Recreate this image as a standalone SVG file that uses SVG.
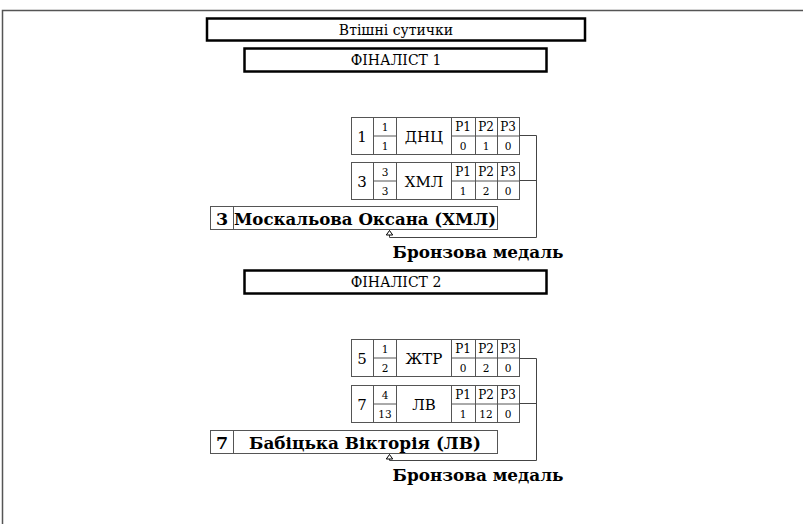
<svg xmlns="http://www.w3.org/2000/svg" width="803" height="524" viewBox="0 0 803 524">
<defs>
<style>
text{font-family:"DejaVu Serif","Liberation Serif",serif;fill:#000}
.hdr{fill:#fff;stroke:#000;stroke-width:2.5}
.cell{fill:#fff;stroke:#555;stroke-width:1}
.ln{fill:none;stroke:#444;stroke-width:1}
.t14{font-size:14px}
.t15{font-size:15px}
.t12{font-size:12px}
.t10{font-size:10.5px}
.b{font-weight:bold;font-size:17.5px}
</style>
<marker id="arr" markerWidth="10" markerHeight="10" refX="7" refY="4" orient="auto" markerUnits="userSpaceOnUse">
<path d="M7,4 L2.5,0.8 L2.5,7.2 Z" fill="#fff" stroke="#000" stroke-width="1"/>
</marker>
</defs>
<rect width="803" height="524" fill="#fff"/>
<path d="M2.5,524 V10.5 H803" fill="none" stroke="#555" stroke-width="1.5"/>

<g id="title">
<rect class="hdr" x="207" y="18.5" width="378" height="22"/>
<text class="t14" x="396" y="34.5" text-anchor="middle">Втішні сутички</text>
</g>
<g id="finalist1">
<rect class="hdr" x="244.5" y="48.5" width="302" height="23"/>
<text class="t14" x="396" y="65" text-anchor="middle">ФІНАЛІСТ 1</text>
</g>

<g id="t1">
<rect class="cell" x="351.5" y="117.5" width="168" height="37"/>
<path class="cell" d="M373.5,117.5V154.5M396.5,117.5V154.5M451.5,117.5V154.5M475.5,117.5V154.5M497.5,117.5V154.5M373.5,136H396.5M451.5,136H519.5"/>
<text class="t15" x="362" y="141.5" text-anchor="middle">1</text>
<text class="t10" x="385" y="131" text-anchor="middle">1</text>
<text class="t10" x="385" y="149.5" text-anchor="middle">1</text>
<text class="t15" x="424" y="141.5" text-anchor="middle">ДНЦ</text>
<text class="t12" x="463" y="131" text-anchor="middle">P1</text>
<text class="t12" x="486" y="131" text-anchor="middle">P2</text>
<text class="t12" x="508" y="131" text-anchor="middle">P3</text>
<text class="t10" x="463" y="149.5" text-anchor="middle">0</text>
<text class="t10" x="486" y="149.5" text-anchor="middle">1</text>
<text class="t10" x="508" y="149.5" text-anchor="middle">0</text>
</g>
<g id="t2">
<rect class="cell" x="351.5" y="162.5" width="168" height="37"/>
<path class="cell" d="M373.5,162.5V199.5M396.5,162.5V199.5M451.5,162.5V199.5M475.5,162.5V199.5M497.5,162.5V199.5M373.5,181H396.5M451.5,181H519.5"/>
<text class="t15" x="362" y="186.5" text-anchor="middle">3</text>
<text class="t10" x="385" y="176" text-anchor="middle">3</text>
<text class="t10" x="385" y="194.5" text-anchor="middle">3</text>
<text class="t15" x="424" y="186.5" text-anchor="middle">ХМЛ</text>
<text class="t12" x="463" y="176" text-anchor="middle">P1</text>
<text class="t12" x="486" y="176" text-anchor="middle">P2</text>
<text class="t12" x="508" y="176" text-anchor="middle">P3</text>
<text class="t10" x="463" y="194.5" text-anchor="middle">1</text>
<text class="t10" x="486" y="194.5" text-anchor="middle">2</text>
<text class="t10" x="508" y="194.5" text-anchor="middle">0</text>
</g>
<g id="w1">
<rect class="cell" x="210.5" y="206.5" width="287" height="23"/>
<path class="cell" d="M233.5,206.5V229.5"/>
<text class="b" x="222" y="224.5" text-anchor="middle">3</text>
<text class="b" x="365" y="224.5" text-anchor="middle" textLength="262" lengthAdjust="spacingAndGlyphs">Москальова Оксана (ХМЛ)</text>
</g>
<g id="bronze1">
<text class="b" x="478" y="258" text-anchor="middle" textLength="171" lengthAdjust="spacingAndGlyphs">Бронзова медаль</text>
</g>

<g id="finalist2">
<rect class="hdr" x="244.5" y="270.5" width="302" height="23"/>
<text class="t14" x="396" y="287" text-anchor="middle">ФІНАЛІСТ 2</text>
</g>

<g id="t3">
<rect class="cell" x="351.5" y="339.5" width="168" height="37"/>
<path class="cell" d="M373.5,339.5V376.5M396.5,339.5V376.5M451.5,339.5V376.5M475.5,339.5V376.5M497.5,339.5V376.5M373.5,358H396.5M451.5,358H519.5"/>
<text class="t15" x="362" y="363.5" text-anchor="middle">5</text>
<text class="t10" x="385" y="353" text-anchor="middle">1</text>
<text class="t10" x="385" y="371.5" text-anchor="middle">2</text>
<text class="t15" x="424" y="363.5" text-anchor="middle">ЖТР</text>
<text class="t12" x="463" y="353" text-anchor="middle">P1</text>
<text class="t12" x="486" y="353" text-anchor="middle">P2</text>
<text class="t12" x="508" y="353" text-anchor="middle">P3</text>
<text class="t10" x="463" y="371.5" text-anchor="middle">0</text>
<text class="t10" x="486" y="371.5" text-anchor="middle">2</text>
<text class="t10" x="508" y="371.5" text-anchor="middle">0</text>
</g>
<g id="t4">
<rect class="cell" x="351.5" y="385.5" width="168" height="37"/>
<path class="cell" d="M373.5,385.5V422.5M396.5,385.5V422.5M451.5,385.5V422.5M475.5,385.5V422.5M497.5,385.5V422.5M373.5,404H396.5M451.5,404H519.5"/>
<text class="t15" x="362" y="409.5" text-anchor="middle">7</text>
<text class="t10" x="385" y="399" text-anchor="middle">4</text>
<text class="t10" x="385" y="417.5" text-anchor="middle">13</text>
<text class="t15" x="424" y="409.5" text-anchor="middle">ЛВ</text>
<text class="t12" x="463" y="399" text-anchor="middle">P1</text>
<text class="t12" x="486" y="399" text-anchor="middle">P2</text>
<text class="t12" x="508" y="399" text-anchor="middle">P3</text>
<text class="t10" x="463" y="417.5" text-anchor="middle">1</text>
<text class="t10" x="486" y="417.5" text-anchor="middle">12</text>
<text class="t10" x="508" y="417.5" text-anchor="middle">0</text>
</g>
<g id="w2">
<rect class="cell" x="210.5" y="430.5" width="287" height="23"/>
<path class="cell" d="M233.5,430.5V453.5"/>
<text class="b" x="222" y="448.5" text-anchor="middle">7</text>
<text class="b" x="365" y="448.5" text-anchor="middle" textLength="232" lengthAdjust="spacingAndGlyphs">Бабіцька Вікторія (ЛВ)</text>
</g>
<g id="bronze2">
<text class="b" x="478" y="481" text-anchor="middle" textLength="171" lengthAdjust="spacingAndGlyphs">Бронзова медаль</text>
</g>

<g id="connectors">
<path class="ln" d="M519.5,135.5H536.5V237.5H389.5V230.5" marker-end="url(#arr)"/>
<path class="ln" d="M519.5,180.5H536.5"/>
<path class="ln" d="M519.5,358.5H536.5V460.5H389.5V454.5" marker-end="url(#arr)"/>
<path class="ln" d="M519.5,403.5H536.5"/>
</g>
</svg>
